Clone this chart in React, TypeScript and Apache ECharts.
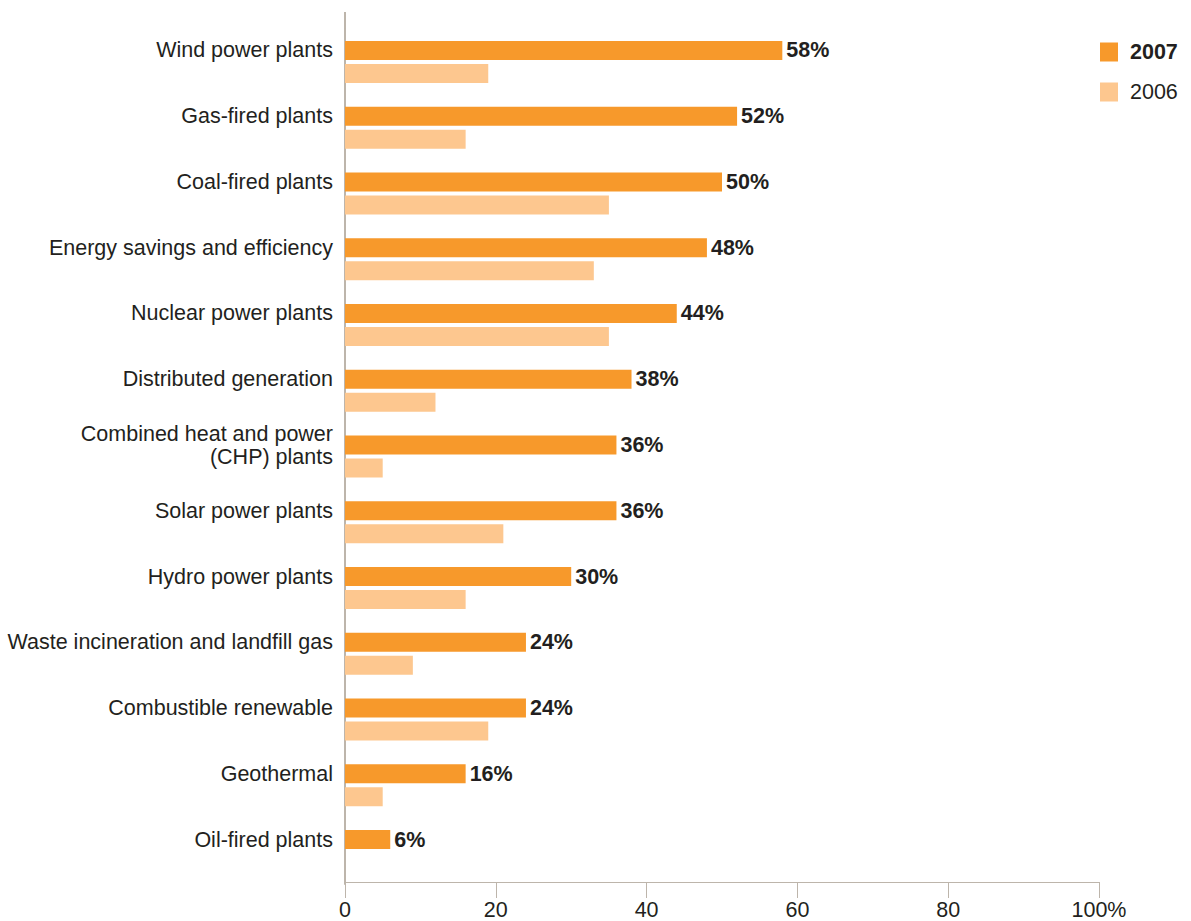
import React, { useEffect, useRef } from "react";
import * as echarts from "echarts";

const categories = [
  "Wind power plants",
  "Gas-fired plants",
  "Coal-fired plants",
  "Energy savings and efficiency",
  "Nuclear power plants",
  "Distributed generation",
  "Combined heat and power\n(CHP) plants",
  "Solar power plants",
  "Hydro power plants",
  "Waste incineration and landfill gas",
  "Combustible renewable",
  "Geothermal",
  "Oil-fired plants",
];
const values2007 = [58, 52, 50, 48, 44, 38, 36, 36, 30, 24, 24, 16, 6];
const values2006 = [19, 16, 35, 33, 35, 12, 5, 21, 16, 9, 19, 5, 0];
const xTicks = [0, 20, 40, 60, 80, 100];

const FONT = "'Liberation Sans', Arial, Helvetica, sans-serif";
const FS = 21.5;
const TEXT = "#231f20";
const AXIS = "#bdb5ab";
const C2007 = "#f7992b";
const C2006 = "#fdc78f";

export default function App() {
  const ref = useRef<HTMLDivElement>(null);
  useEffect(() => {
    document.body.style.margin = "0";
    const chart = echarts.init(ref.current!, null, { renderer: "svg" });
    chart.setOption({
      animation: false,
      textStyle: { fontFamily: FONT },
      grid: { left: 345, right: 92, top: 29, bottom: 34, containLabel: false },
      legend: {
        orient: "vertical",
        left: 1100,
        top: 41,
        padding: 0,
        itemWidth: 18,
        itemHeight: 19,
        itemGap: 18,
        icon: "rect",
        textStyle: { fontSize: FS, color: TEXT, fontFamily: FONT, padding: [0, 0, 0, 7] },
        data: [
          { name: "2007", textStyle: { fontWeight: "bold" } },
          { name: "2006", textStyle: { fontWeight: "normal" } },
        ],
      },
      graphic: [
        {
          type: "line",
          shape: { x1: 345, y1: 12, x2: 345, y2: 30 },
          style: { stroke: AXIS, lineWidth: 2 },
          silent: true,
        },
      ],
      xAxis: {
        type: "value",
        min: xTicks[0],
        max: xTicks[xTicks.length - 1],
        interval: 20,
        offset: -2,
        splitLine: { show: false },
        axisLine: { show: true, lineStyle: { color: AXIS, width: 1 } },
        axisTick: { show: true, length: 16, lineStyle: { color: AXIS, width: 1 } },
        axisLabel: {
          margin: 17,
          fontSize: FS,
          color: TEXT,
          fontFamily: FONT,
          formatter: (v: number) => (v === 100 ? "100%" : String(v)),
        },
      },
      yAxis: {
        type: "category",
        data: categories,
        inverse: true,
        axisLine: { show: true, lineStyle: { color: AXIS, width: 2 } },
        axisTick: { show: false },
        axisLabel: {
          margin: 12,
          fontSize: FS,
          lineHeight: 23,
          color: TEXT,
          fontFamily: FONT,
          align: "right",
          verticalAlign: "middle",
          formatter: (v: string) => v + "\n ",
        },
      },
      series: [
        {
          name: "2007",
          type: "bar",
          data: values2007,
          barWidth: 19,
          barGap: "21%",
          itemStyle: { color: C2007 },
          label: {
            show: true,
            position: "right",
            distance: 4,
            formatter: "{c}%",
            fontSize: FS,
            fontWeight: "bold",
            color: TEXT,
            fontFamily: FONT,
          },
        },
        {
          name: "2006",
          type: "bar",
          data: values2006,
          barWidth: 19,
          barGap: "21%",
          itemStyle: { color: C2006 },
        },
      ],
    });
    return () => chart.dispose();
  }, []);
  return <div ref={ref} style={{ width: 1191, height: 921 }} />;
}
